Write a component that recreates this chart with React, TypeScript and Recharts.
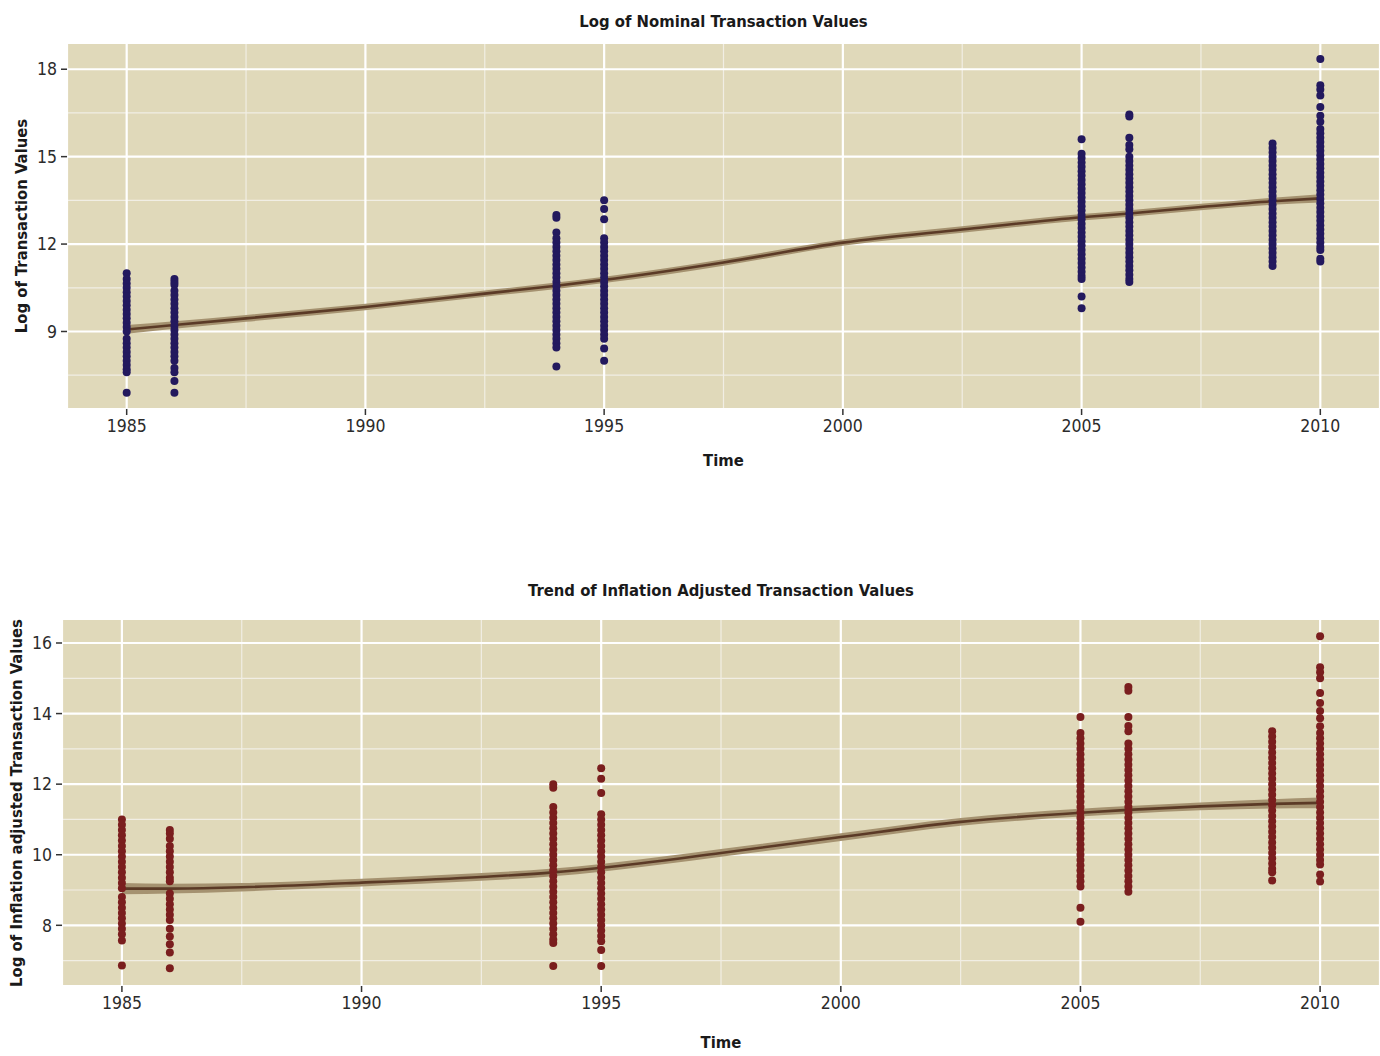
import React from 'react';
import {
  ComposedChart,
  Scatter,
  Area,
  Line,
  XAxis,
  YAxis,
  CartesianGrid,
} from 'recharts';

// Years that have transactions
const years = [1985, 1986, 1994, 1995, 2005, 2006, 2009, 2010];

// Log of nominal transaction values, one list per year
const nominal1985 = [11.0, 10.8, 10.65, 10.5, 10.35, 10.2, 10.05, 9.9, 9.75, 9.6, 9.45, 9.3, 9.15, 9.0, 8.75, 8.6, 8.45, 8.3, 8.15, 8.0, 7.85, 7.7, 7.6, 6.9];
const nominal1986 = [10.8, 10.7, 10.6, 10.4, 10.25, 10.1, 9.95, 9.8, 9.65, 9.5, 9.35, 9.2, 9.05, 8.9, 8.75, 8.6, 8.45, 8.3, 8.15, 8.0, 7.75, 7.6, 7.3, 6.9];
const nominal1994 = [13.0, 12.9, 12.4, 12.2, 12.05, 11.9, 11.75, 11.6, 11.45, 11.3, 11.15, 11.0, 10.85, 10.7, 10.55, 10.4, 10.25, 10.1, 9.95, 9.8, 9.65, 9.5, 9.35, 9.2, 9.05, 8.9, 8.75, 8.6, 8.45, 7.8];
const nominal1995 = [13.5, 13.2, 12.85, 12.2, 12.05, 11.9, 11.75, 11.6, 11.45, 11.3, 11.15, 11.0, 10.85, 10.7, 10.55, 10.4, 10.25, 10.1, 9.95, 9.8, 9.65, 9.5, 9.35, 9.2, 9.05, 8.9, 8.75, 8.42, 8.0];
const nominal2005 = [15.6, 15.1, 14.95, 14.8, 14.65, 14.5, 14.35, 14.2, 14.05, 13.9, 13.75, 13.6, 13.45, 13.3, 13.15, 13.0, 12.85, 12.7, 12.55, 12.4, 12.25, 12.1, 11.95, 11.8, 11.65, 11.5, 11.35, 11.2, 11.05, 10.9, 10.8, 10.2, 9.8];
const nominal2006 = [16.45, 16.38, 15.65, 15.4, 15.25, 15.0, 14.85, 14.7, 14.55, 14.4, 14.25, 14.1, 13.95, 13.8, 13.65, 13.5, 13.35, 13.2, 13.05, 12.9, 12.75, 12.6, 12.45, 12.3, 12.15, 12.0, 11.85, 11.7, 11.55, 11.4, 11.25, 11.1, 10.95, 10.8, 10.7];
const nominal2009 = [15.45, 15.3, 15.15, 15.0, 14.85, 14.7, 14.55, 14.4, 14.25, 14.1, 13.95, 13.8, 13.65, 13.5, 13.35, 13.2, 13.05, 12.9, 12.75, 12.6, 12.45, 12.3, 12.15, 12.0, 11.85, 11.7, 11.55, 11.4, 11.25];
const nominal2010 = [18.35, 17.45, 17.3, 17.1, 16.7, 16.4, 16.2, 15.95, 15.8, 15.65, 15.5, 15.35, 15.2, 15.05, 14.9, 14.75, 14.6, 14.45, 14.3, 14.15, 14.0, 13.85, 13.7, 13.55, 13.4, 13.25, 13.1, 12.95, 12.8, 12.65, 12.5, 12.35, 12.2, 12.05, 11.9, 11.8, 11.5, 11.4];

// Log of inflation adjusted transaction values, one list per year
const adjusted1985 = [11.0, 10.85, 10.7, 10.55, 10.4, 10.25, 10.1, 9.95, 9.8, 9.65, 9.5, 9.35, 9.2, 9.05, 8.8, 8.65, 8.5, 8.35, 8.2, 8.05, 7.9, 7.75, 7.57, 6.86];
const adjusted1986 = [10.7, 10.6, 10.45, 10.25, 10.1, 9.95, 9.8, 9.65, 9.5, 9.35, 9.25, 8.9, 8.75, 8.6, 8.45, 8.3, 8.15, 7.9, 7.68, 7.46, 7.23, 6.78];
const adjusted1994 = [12.0, 11.9, 11.35, 11.2, 11.05, 10.9, 10.75, 10.6, 10.45, 10.3, 10.15, 10.0, 9.85, 9.7, 9.55, 9.4, 9.25, 9.1, 8.95, 8.8, 8.65, 8.5, 8.35, 8.2, 8.05, 7.9, 7.75, 7.6, 7.5, 6.85];
const adjusted1995 = [12.45, 12.15, 11.75, 11.15, 11.0, 10.85, 10.7, 10.55, 10.4, 10.25, 10.1, 9.95, 9.8, 9.65, 9.5, 9.35, 9.2, 9.05, 8.9, 8.75, 8.6, 8.45, 8.3, 8.15, 8.0, 7.85, 7.7, 7.55, 7.3, 6.85];
const adjusted2005 = [13.9, 13.45, 13.3, 13.15, 13.0, 12.85, 12.7, 12.55, 12.4, 12.25, 12.1, 11.95, 11.8, 11.65, 11.5, 11.35, 11.2, 11.05, 10.9, 10.75, 10.6, 10.45, 10.3, 10.15, 10.0, 9.85, 9.7, 9.55, 9.4, 9.25, 9.1, 8.5, 8.1];
const adjusted2006 = [14.75, 14.65, 13.9, 13.65, 13.5, 13.15, 13.0, 12.85, 12.7, 12.55, 12.4, 12.25, 12.1, 11.95, 11.8, 11.65, 11.5, 11.35, 11.2, 11.05, 10.9, 10.75, 10.6, 10.45, 10.3, 10.15, 10.0, 9.85, 9.7, 9.55, 9.4, 9.25, 9.1, 8.95];
const adjusted2009 = [13.5, 13.35, 13.2, 13.05, 12.9, 12.75, 12.6, 12.45, 12.3, 12.15, 12.0, 11.85, 11.7, 11.55, 11.4, 11.25, 11.1, 10.95, 10.8, 10.65, 10.5, 10.35, 10.2, 10.05, 9.9, 9.75, 9.6, 9.5, 9.27];
const adjusted2010 = [16.19, 15.31, 15.17, 15.0, 14.58, 14.3, 14.07, 13.87, 13.64, 13.45, 13.3, 13.15, 13.0, 12.85, 12.7, 12.55, 12.4, 12.25, 12.1, 11.95, 11.8, 11.65, 11.5, 11.35, 11.2, 11.05, 10.9, 10.75, 10.6, 10.45, 10.3, 10.15, 10.0, 9.85, 9.72, 9.44, 9.24];

// Smoothed trend (loess), with the half width of the band
const fitYears = [1985, 1986, 1987.5, 1990, 1992.5, 1994, 1995, 1997.5, 2000, 2002.5, 2005, 2006, 2007.5, 2009, 2010];
const nominalFit = [9.07, 9.22, 9.45, 9.84, 10.3, 10.57, 10.77, 11.37, 12.05, 12.5, 12.92, 13.05, 13.27, 13.47, 13.57];
const nominalSe = [0.15, 0.13, 0.12, 0.11, 0.11, 0.11, 0.11, 0.11, 0.11, 0.11, 0.11, 0.11, 0.11, 0.12, 0.14];
const adjustedFit = [9.04, 9.04, 9.08, 9.21, 9.37, 9.5, 9.63, 10.05, 10.5, 10.93, 11.19, 11.27, 11.37, 11.44, 11.47];
const adjustedSe = [0.16, 0.14, 0.12, 0.11, 0.11, 0.11, 0.11, 0.11, 0.11, 0.11, 0.11, 0.11, 0.11, 0.13, 0.15];

const xTicks = [1985, 1990, 1995, 2000, 2005, 2010];
const xMinor = [1987.5, 1992.5, 1997.5, 2002.5, 2007.5];
const nominalTicks = [9, 12, 15, 18];
const nominalMinor = [7.5, 10.5, 13.5, 16.5];
const adjustedTicks = [8, 10, 12, 14, 16];
const adjustedMinor = [7, 9, 11, 13, 15];

const FONT = '"DejaVu Sans Condensed", "Liberation Sans Narrow", sans-serif';
const PANEL = '#e0d9ba';

const toPoints = (lists: number[][]) =>
  years.flatMap((yr, i) => lists[i].map((v) => ({ year: yr, value: v })));

const toFit = (fit: number[], se: number[]) =>
  fitYears.map((yr, i) => ({ year: yr, fit: fit[i], band: [fit[i] - se[i], fit[i] + se[i]] }));

type PanelProps = {
  top: number;
  height: number;
  marginTop: number;
  yAxisWidth: number;
  title: string;
  titleTop: number;
  timeTop: number;
  yLabel: string;
  labelX: number;
  points: { year: number; value: number }[];
  fit: { year: number; fit: number; band: number[] }[];
  yDomain: [number, number];
  yTicks: number[];
  yMinor: number[];
  color: string;
};

const Panel = (p: PanelProps) => {
  const plotTop = p.top + p.marginTop;
  const plotBottom = p.top + p.height - 70;
  const plotCenterX = (p.yAxisWidth + 1380) / 2;
  const tickStyle = { fontSize: 17.5, fill: '#2b2b2b', fontFamily: FONT };
  const labelStyle = {
    position: 'absolute' as const,
    textAlign: 'center' as const,
    fontFamily: FONT,
    fontWeight: 'bold' as const,
    fontSize: 16.5,
    color: '#1a1a1a',
    lineHeight: '20px',
    height: 20,
  };
  return (
    <>
      <div style={{ ...labelStyle, top: p.titleTop - 10, left: plotCenterX - 400, width: 800 }}>
        {p.title}
      </div>
      <div
        style={{
          ...labelStyle,
          top: (plotTop + plotBottom) / 2 - 10,
          left: p.labelX - 250,
          width: 500,
          transform: 'rotate(-90deg)',
        }}
      >
        {p.yLabel}
      </div>
      <div style={{ ...labelStyle, top: p.timeTop - 10, left: plotCenterX - 100, width: 200 }}>
        Time
      </div>
      <div style={{ position: 'absolute', top: p.top, left: 0 }}>
        <ComposedChart
          width={1380}
          height={p.height}
          data={p.fit}
          margin={{ top: p.marginTop, right: 0, left: 0, bottom: 40 }}
        >
          <CartesianGrid
            fill={PANEL}
            stroke="#f1eee4"
            strokeWidth={1.2}
            horizontalValues={p.yMinor}
            verticalValues={xMinor}
          />
          <CartesianGrid stroke="#ffffff" strokeWidth={2.2} />
          <XAxis
            dataKey="year"
            type="number"
            domain={[1983.75, 2011.25]}
            ticks={xTicks}
            allowDataOverflow
            axisLine={false}
            tickSize={6}
            tickMargin={5}
            tickLine={{ stroke: '#333', strokeWidth: 1.5 }}
            tick={tickStyle}
            height={30}
          />
          <YAxis
            type="number"
            domain={p.yDomain}
            ticks={p.yTicks}
            allowDataOverflow
            axisLine={false}
            tickSize={6}
            tickMargin={4}
            tickLine={{ stroke: '#333', strokeWidth: 1.5 }}
            tick={tickStyle}
            width={p.yAxisWidth}
          />
          <Scatter
            data={p.points}
            dataKey="value"
            isAnimationActive={false}
            shape={(s: any) => <circle cx={s.cx} cy={s.cy} r={4} fill={p.color} />}
          />
          <Area
            type="monotone"
            dataKey="band"
            stroke="none"
            fill="#a59270"
            fillOpacity={1}
            isAnimationActive={false}
          />
          <Line
            type="monotone"
            dataKey="fit"
            stroke="#5b3a26"
            strokeWidth={2.6}
            dot={false}
            isAnimationActive={false}
          />
        </ComposedChart>
      </div>
    </>
  );
};

export default function App() {
  return (
    <div
      style={{
        position: 'absolute',
        left: 0,
        top: 0,
        width: 1380,
        height: 1056,
        background: '#ffffff',
        overflow: 'hidden',
      }}
    >
      <Panel
        top={0}
        height={479}
        marginTop={43}
        yAxisWidth={67}
        title="Log of Nominal Transaction Values"
        titleTop={22}
        timeTop={461}
        yLabel="Log of Transaction Values"
        labelX={22}
        points={toPoints([nominal1985, nominal1986, nominal1994, nominal1995, nominal2005, nominal2006, nominal2009, nominal2010])}
        fit={toFit(nominalFit, nominalSe)}
        yDomain={[6.34, 18.9]}
        yTicks={nominalTicks}
        yMinor={nominalMinor}
        color="#23195e"
      />
      <Panel
        top={560}
        height={496}
        marginTop={59}
        yAxisWidth={62}
        title="Trend of Inflation Adjusted Transaction Values"
        titleTop={591}
        timeTop={1043}
        yLabel="Log of Inflation adjusted Transaction Values"
        labelX={17}
        points={toPoints([adjusted1985, adjusted1986, adjusted1994, adjusted1995, adjusted2005, adjusted2006, adjusted2009, adjusted2010])}
        fit={toFit(adjustedFit, adjustedSe)}
        yDomain={[6.28, 16.68]}
        yTicks={adjustedTicks}
        yMinor={adjustedMinor}
        color="#7a1e1e"
      />
    </div>
  );
}
